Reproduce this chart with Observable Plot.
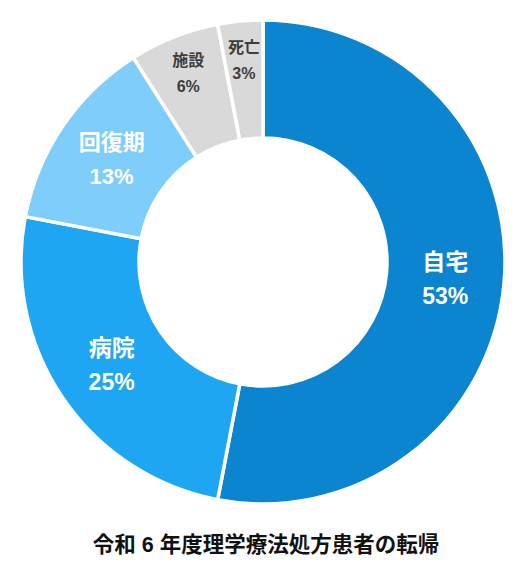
<!DOCTYPE html>
<html>
<head>
<meta charset="utf-8">
<script src="https://cdn.jsdelivr.net/npm/d3@7"></script>
<script src="https://cdn.jsdelivr.net/npm/@observablehq/plot@0.6"></script>
<style>
  html, body { margin: 0; padding: 0; background: #fff; }
  #chart { width: 530px; }
  #title { width: 530px; height: 40px; line-height: 40px; text-align: center;
    font-family: "Liberation Sans", Arial, "Noto Sans CJK JP", sans-serif;
    font-weight: 700; font-size: 21.5px; color: #111; padding-left: 2px; box-sizing: border-box; }
</style>
</head>
<body>
<div id="chart"></div>
<div id="title">令和&nbsp;6&nbsp;年度理学療法処方患者の転帰</div>
<script>
const categories = ["自宅", "病院", "回復期", "施設", "死亡"];
const values = [53, 25, 13, 6, 3];
const colors = ["#0b85d0", "#1ea6f2", "#7fcdfa", "#d9d9d9", "#d9d9d9"];

const data = categories.map((c, i) => ({category: c, value: values[i]}));
const total = d3.sum(values);

const W = 530, H = 525;
const cx = 263, cy = 262;
const rOuter = 242, rInner = 124;

const font = '"Liberation Sans", Arial, "Noto Sans CJK JP", sans-serif';

function donutRender(index, scales, vals, dimensions) {
  const g = d3.create("svg:g");
  const arc = d3.arc().innerRadius(rInner).outerRadius(rOuter);
  for (const i of index) {
    const a0 = vals.x1[i], a1 = vals.x2[i];
    g.append("path")
      .attr("transform", `translate(${cx},${cy})`)
      .attr("d", arc({startAngle: a0, endAngle: a1}))
      .attr("fill", vals.fill[i])
      .attr("stroke", "#fff")
      .attr("stroke-width", 3.5)
      .attr("stroke-linejoin", "miter");
  }
  for (const i of index) {
    const a0 = vals.x1[i], a1 = vals.x2[i];
    const mid = (a0 + a1) / 2;
    const d = data[i];
    const small = d.value < 10;
    const r = small ? 203 : 183;
    const x = cx + r * Math.sin(mid);
    const y = cy - r * Math.cos(mid);
    const fs = small ? 16 : (d.value < 20 ? 22 : 23);
    const gap = small ? 13 : 17;
    const light = d3.lab(vals.fill[i]).l > 80;
    const col = light ? "#3d3d3d" : "#ffffff";
    const t = g.append("text")
      .attr("text-anchor", "middle")
      .attr("font-family", font)
      .attr("font-weight", 700)
      .attr("font-size", fs)
      .attr("fill", col);
    t.append("tspan").attr("x", x).attr("y", y - gap).attr("dy", "0.35em").text(d.category);
    t.append("tspan").attr("x", x).attr("y", y + gap).attr("dy", "0.35em").text(d.value + "%");
  }
  return g.node();
}

const chart = Plot.plot({
  width: W,
  height: H,
  margin: 0,
  x: {domain: [0, total], range: [0, 2 * Math.PI], axis: null},
  color: {domain: categories, range: colors},
  marks: [
    Plot.barX(data, Plot.stackX({
      x: "value",
      fill: "category",
      order: null,
      render: donutRender
    }))
  ]
});
document.getElementById("chart").appendChild(chart);
</script>
</body>
</html>
